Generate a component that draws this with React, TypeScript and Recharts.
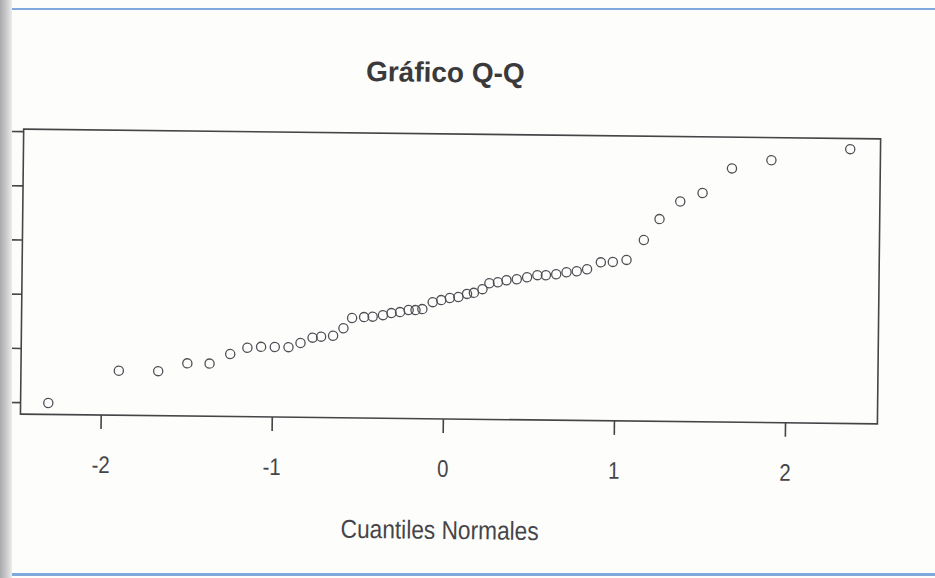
import { ScatterChart, Scatter, XAxis, YAxis, ReferenceArea } from "recharts"

// theoretical normal quantiles (x) against the sorted sample (y)
const quantiles = [
    -2.31, -1.9, -1.67, -1.5, -1.37, -1.25, -1.15, -1.07, -0.99, -0.91, -0.84, -0.77, -0.72,
    -0.65, -0.59, -0.54, -0.47, -0.42, -0.36, -0.31, -0.26, -0.21, -0.17, -0.13, -0.07, -0.02,
    0.03, 0.08, 0.13, 0.17, 0.22, 0.26, 0.31, 0.36, 0.42, 0.48, 0.54, 0.59, 0.65, 0.71, 0.77,
    0.83, 0.91, 0.98, 1.06, 1.16, 1.25, 1.37, 1.5, 1.67, 1.9, 2.36,
]

const sample = [
    10.0, 13.05, 13.05, 13.8, 13.8, 14.7, 15.3, 15.4, 15.4, 15.4, 15.8, 16.3, 16.4, 16.5, 17.2,
    18.15, 18.25, 18.3, 18.45, 18.65, 18.75, 18.95, 18.95, 19.05, 19.7, 19.9, 20.1, 20.2, 20.5,
    20.6, 20.95, 21.5, 21.6, 21.8, 21.9, 22.1, 22.3, 22.3, 22.4, 22.6, 22.7, 22.9, 23.55, 23.6,
    23.8, 25.65, 27.6, 29.25, 30.05, 32.35, 33.15, 34.25,
]

const xTicks = [-2, -1, 0, 1, 2]
const yTicks = [10, 15, 20, 25, 30, 35]

const xDomain: [number, number] = [-2.472, 2.537]
const yDomain: [number, number] = [8.94, 35.23]

const points = quantiles.map((q, i) => ({ q, v: sample[i] }))

const INK = "#454548"
const FONT = "'Liberation Sans', Arial, sans-serif"

function QuantileTick({ x, y, payload }: any) {
    return (
        <g transform={`translate(${x},${y + 44}) scale(0.85,1)`}>
            <text textAnchor="middle" fill={INK} fontSize={24} fontFamily={FONT}>
                {String(payload.value)}
            </text>
        </g>
    )
}

// y labels fall off the page edge; only the tick marks remain
const NoLabel = () => <g />

function AxisCaption({ viewBox }: any) {
    const cx = viewBox.x + viewBox.width / 2 - 8
    return (
        <text
            x={cx}
            y={viewBox.y + 120}
            textAnchor="middle"
            fill={INK}
            fontSize={26}
            fontFamily={FONT}
            textLength={198}
            lengthAdjust="spacingAndGlyphs"
        >
            Cuantiles Normales
        </text>
    )
}

const Ring = (p: any) => (
    <circle cx={p.cx} cy={p.cy} r={4.6} fill="none" stroke="#4f4f57" strokeWidth={1.3} />
)

export default function App() {
    return (
        <div style={{ position: "absolute", left: 0, top: 0, width: 935, height: 578, background: "#fdfdfb", overflow: "hidden" }}>
            <div style={{ position: "absolute", left: 0, top: 8, width: 935, height: 2, background: "#7fa9dc" }} />
            <div style={{ position: "absolute", left: 0, top: 573, width: 935, height: 3, background: "#7fa9dc" }} />
            <div
                style={{
                    position: "absolute",
                    left: 0,
                    top: 0,
                    width: 935,
                    height: 578,
                    transform: "rotate(0.65deg)",
                    transformOrigin: "450px 280px",
                }}
            >
                <div
                    style={{
                        position: "absolute",
                        left: 0,
                        top: 59,
                        width: 886,
                        textAlign: "center",
                        fontFamily: FONT,
                        fontWeight: "bold",
                        fontSize: 28,
                        lineHeight: "28px",
                        color: "#3a3a3c",
                    }}
                >
                    Gráfico Q-Q
                </div>
                <ScatterChart width={935} height={578} margin={{ top: 134, right: 56, bottom: 0, left: 0 }}>
                    <XAxis
                        type="number"
                        dataKey="q"
                        domain={xDomain}
                        ticks={xTicks}
                        tickSize={14}
                        tickMargin={0}
                        height={159}
                        axisLine={false}
                        tickLine={{ stroke: INK, strokeWidth: 1.6 }}
                        tick={<QuantileTick />}
                        label={<AxisCaption />}
                    />
                    <YAxis
                        type="number"
                        dataKey="v"
                        domain={yDomain}
                        ticks={yTicks}
                        width={22}
                        tickSize={12}
                        axisLine={false}
                        tickLine={{ stroke: INK, strokeWidth: 1.6 }}
                        tick={<NoLabel />}
                    />
                    <ReferenceArea
                        x1={xDomain[0]}
                        x2={xDomain[1]}
                        y1={yDomain[0]}
                        y2={yDomain[1]}
                        fill="none"
                        fillOpacity={0}
                        stroke={INK}
                        strokeWidth={1.6}
                        ifOverflow="visible"
                    />
                    <Scatter data={points} shape={Ring} isAnimationActive={false} />
                </ScatterChart>
            </div>
            <div
                style={{
                    position: "absolute",
                    left: 0,
                    top: 0,
                    width: 12,
                    height: 578,
                    background: "linear-gradient(to right, #a9a9ab, #cfcfd1 60%, #ececec)",
                }}
            />
        </div>
    )
}
